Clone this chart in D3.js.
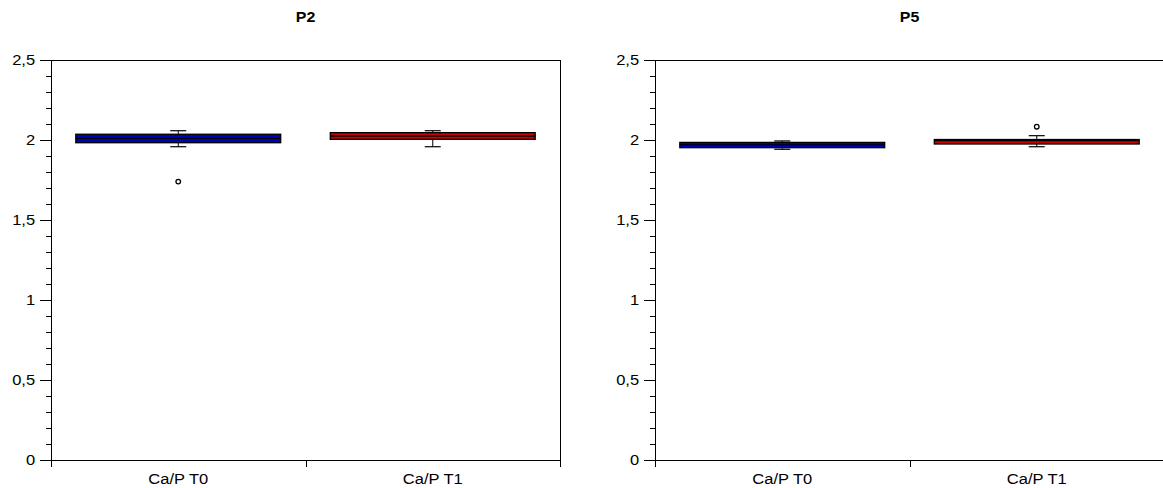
<!DOCTYPE html>
<html><head><meta charset="utf-8">
<script src="https://cdn.jsdelivr.net/npm/d3@7"></script>
<style>body{margin:0;background:#fff}svg{display:block}text{font-family:"Liberation Sans",Arial,sans-serif}</style>
</head><body>
<svg id="c" width="1163" height="488"></svg>
<script>
const panels = ["P2", "P5"];
const categories = ["Ca/P T0", "Ca/P T1"];
const colors = ["#0000b8", "#c80000"];
const yTicks = [0, 0.5, 1, 1.5, 2, 2.5];
// per panel, per category: [lowerWhisker, q1, median, q3, upperWhisker]
const p2Stats = [[1.958, 1.983, 2.01, 2.036, 2.058], [1.958, 2.004, 2.025, 2.046, 2.058]];
const p5Stats = [[1.942, 1.952, 1.97, 1.985, 1.994], [1.958, 1.975, 1.997, 2.003, 2.027]];
const p2Outliers = [[1.74], []];
const p5Outliers = [[], [2.083]];
const stats = [p2Stats, p5Stats];
const outliers = [p2Outliers, p5Outliers];

(function () {
const svg = d3.select("#c");
const lefts = [51, 655];
const W = 509, yTop = 60, yBottom = 460;
const sx = 1.1;

function stretchText(sel, x, y) {
  sel.attr("x", 0).attr("y", 0).attr("transform", `translate(${x},${y}) scale(${sx},1)`);
}

panels.forEach((name, pi) => {
  const x0 = lefts[pi];
  const g = svg.append("g");
  const x = d3.scaleBand().domain(categories).range([x0, x0 + W]);
  const y = d3.scaleLinear().domain([0, 2.5]).range([yBottom, yTop]);

  // frame (top & right)
  g.append("line").attr("x1", x0).attr("x2", x0 + W).attr("y1", yTop + 0.5).attr("y2", yTop + 0.5).attr("stroke", "#000");
  g.append("line").attr("x1", x0 + W + 0.5).attr("x2", x0 + W + 0.5).attr("y1", yTop).attr("y2", yBottom).attr("stroke", "#000");

  // y axis
  const ya = d3.axisLeft(y).tickValues(yTicks).tickSize(11).tickPadding(3.5)
    .tickFormat(d => d3.format("~g")(d).replace(".", ","));
  const yg = g.append("g").attr("transform", `translate(${x0},0)`).call(ya);
  yg.select(".domain").attr("stroke", "#000");
  yg.selectAll(".tick line").attr("stroke", "#000");
  yg.selectAll("text").attr("font-size", 15).attr("fill", "#000")
    .attr("font-family", "Liberation Sans, Arial, sans-serif")
    .attr("transform", `scale(${sx},1)`);
  const minor = d3.range(0, 2.51, 0.1).filter(v => Math.abs(v * 2 - Math.round(v * 2)) > 1e-6);
  g.append("g").selectAll("line").data(minor).join("line")
    .attr("x1", x0 - 5).attr("x2", x0).attr("y1", d => Math.round(y(d)) + 0.5).attr("y2", d => Math.round(y(d)) + 0.5).attr("stroke", "#000");

  // x axis
  g.append("line").attr("x1", x0).attr("x2", x0 + W).attr("y1", yBottom + 0.5).attr("y2", yBottom + 0.5).attr("stroke", "#000");
  const xt = [x0, x0 + W / 2, x0 + W];
  g.append("g").selectAll("line").data(xt).join("line")
    .attr("x1", d => Math.round(d) + 0.5).attr("x2", d => Math.round(d) + 0.5).attr("y1", yBottom).attr("y2", yBottom + 7).attr("stroke", "#000");
  g.append("g").selectAll("text").data(categories).join("text")
    .attr("text-anchor", "middle").attr("font-size", 15).text(d => d)
    .each(function (d) { stretchText(d3.select(this), x(d) + x.bandwidth() / 2, 484); });

  // title
  g.append("text").attr("text-anchor", "middle")
    .attr("font-size", 14.5).attr("font-weight", "bold").text(name)
    .call(s => stretchText(s, x0 + W / 2, 22));

  // boxes
  categories.forEach((c, ci) => {
    const [lw, q1, med, q3, uw] = stats[pi][ci];
    const cx = x(c) + x.bandwidth() / 2;
    const bw = x.bandwidth() * 0.805;
    const capW = 16;
    g.append("line").attr("x1", cx).attr("x2", cx).attr("y1", y(uw)).attr("y2", y(lw)).attr("stroke", "#000");
    g.append("rect").attr("x", cx - bw / 2).attr("width", bw).attr("y", y(q3)).attr("height", y(q1) - y(q3))
      .attr("fill", colors[ci]).attr("stroke", "#000").attr("stroke-width", 1.3);
    g.append("line").attr("x1", cx - bw / 2).attr("x2", cx + bw / 2).attr("y1", y(med)).attr("y2", y(med)).attr("stroke", "#000").attr("stroke-width", 1.3);
    [lw, uw].forEach(v => g.append("line").attr("x1", cx - capW / 2).attr("x2", cx + capW / 2)
      .attr("y1", y(v)).attr("y2", y(v)).attr("stroke", "#000").attr("stroke-width", 1.2));
    g.append("g").selectAll("circle").data(outliers[pi][ci]).join("circle")
      .attr("cx", cx).attr("cy", d => y(d)).attr("r", 2.3).attr("fill", "#fff").attr("stroke", "#000").attr("stroke-width", 1.3);
  });
});
})();
</script>
</body></html>
